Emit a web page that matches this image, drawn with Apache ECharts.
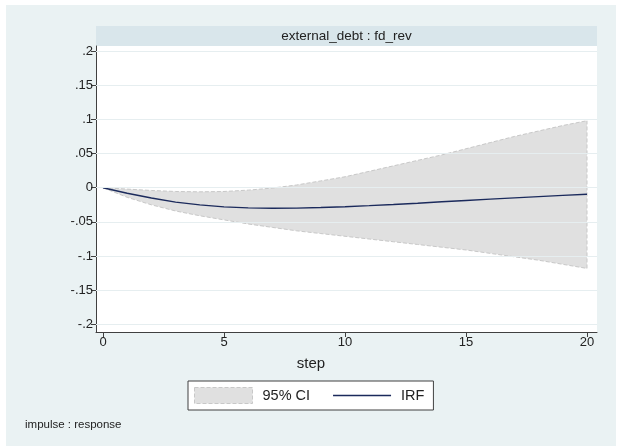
<!DOCTYPE html>
<html><head><meta charset="utf-8">
<script src="https://cdn.jsdelivr.net/npm/echarts@6/dist/echarts.min.js"></script>
<style>html,body{margin:0;padding:0;background:#fff}#c{width:629px;height:447px}</style>
</head><body><div id="c"></div>
<script>
const steps = [0,1,2,3,4,5,6,7,8,9,10,11,12,13,14,15,16,17,18,19,20];
const irf = [0,-0.008,-0.015,-0.021,-0.025,-0.028,-0.0295,-0.030,-0.0298,-0.029,-0.0278,-0.0262,-0.0245,-0.0226,-0.0206,-0.0186,-0.0167,-0.0148,-0.013,-0.0112,-0.0095];
const ciLower = [0,-0.014,-0.025,-0.034,-0.041,-0.047,-0.053,-0.058,-0.063,-0.067,-0.071,-0.075,-0.079,-0.083,-0.087,-0.091,-0.096,-0.101,-0.106,-0.112,-0.118];
const ciUpper = [0,-0.002,-0.004,-0.0055,-0.006,-0.0055,-0.0035,-0.0005,0.004,0.010,0.016,0.024,0.032,0.040,0.048,0.057,0.066,0.075,0.083,0.091,0.098];
const yTickValues = [-0.2,-0.15,-0.1,-0.05,0,0.05,0.1,0.15,0.2];
const yTickLabels = ['-.2','-.15','-.1','-.05','0','.05','.1','.15','.2'];
const xTickValues = [0,5,10,15,20];
const xTickLabels = ['0','5','10','15','20'];
const panelTitle = 'external_debt : fd_rev';
const xTitle = 'step';
const ciName = '95% CI';
const irfName = 'IRF';
const noteText = 'impulse : response';

const FONT = '"Liberation Sans", Arial, Helvetica, sans-serif';
const axisColor = '#404040';
const bandFill = '#e0e0e0';
const bandEdge = '#c8c8c8';
const gridColor = '#e6eef0';
const irfColor = '#1b2a5c';
const last = steps.length - 1;

const chart = echarts.init(document.getElementById('c'), null, {renderer: 'canvas'});
chart.setOption({
  animation: false,
  backgroundColor: '#ffffff',
  textStyle: {fontFamily: FONT},
  graphic: [
    {type: 'rect', z: -10, silent: true, shape: {x: 6, y: 5, width: 610, height: 441}, style: {fill: '#eaf2f3'}},
    {type: 'rect', z: -5, silent: true, shape: {x: 96, y: 26, width: 501, height: 20}, style: {fill: '#d9e6eb'}},
    {type: 'text', z: 10, silent: true, x: 346.5, y: 36.5, style: {text: panelTitle, fill: '#222', font: '13.5px ' + FONT, textAlign: 'center', textVerticalAlign: 'middle'}},
    {type: 'text', z: 10, silent: true, x: 311, y: 364, style: {text: xTitle, fill: '#222', font: '15px ' + FONT, textAlign: 'center', textVerticalAlign: 'middle'}},
    {type: 'text', z: 10, silent: true, x: 25, y: 425, style: {text: noteText, fill: '#222', font: '11.5px ' + FONT, textAlign: 'left', textVerticalAlign: 'middle'}}
  ],
  grid: {left: 96, right: 32, top: 46, bottom: 115, show: true, backgroundColor: '#ffffff', borderWidth: 0, containLabel: false},
  legend: {
    left: 188, top: 381,
    orient: 'horizontal',
    backgroundColor: '#ffffff', borderColor: axisColor, borderWidth: 1, borderRadius: 0,
    padding: [6, 9, 6, 6],
    itemWidth: 58, itemHeight: 16, itemGap: 23,
    textStyle: {fontFamily: FONT, fontSize: 14.5, color: '#222', padding: [0, 0, 0, 5]},
    data: [
      {name: ciName, icon: 'rect', itemStyle: {color: bandFill, borderColor: bandEdge, borderWidth: 1, borderType: 'dashed'}},
      {name: irfName, icon: 'path://M0,0L58,0L58,1.3L0,1.3Z', itemStyle: {color: irfColor, borderWidth: 0}, lineStyle: {color: irfColor, width: 1.2}}
    ]
  },
  xAxis: {
    type: 'value', min: -0.289, max: 20.413,
    axisLine: {show: true, onZero: false, lineStyle: {color: axisColor, width: 1}},
    axisTick: {show: true, length: 5, customValues: xTickValues, lineStyle: {color: axisColor}},
    axisLabel: {customValues: xTickValues, margin: 4, fontSize: 13, color: '#222', fontFamily: FONT,
      formatter: v => xTickLabels[xTickValues.findIndex(t => Math.abs(t - v) < 1e-9)]},
    splitLine: {show: false}
  },
  yAxis: {
    type: 'value', min: -0.211, max: 0.2073,
    axisLine: {show: true, onZero: false, lineStyle: {color: axisColor, width: 1}},
    axisTick: {show: true, length: 5, customValues: yTickValues, lineStyle: {color: axisColor}},
    axisLabel: {customValues: yTickValues, margin: 3, fontSize: 13, color: '#222', fontFamily: FONT,
      formatter: v => yTickLabels[yTickValues.findIndex(t => Math.abs(t - v) < 1e-9)]},
    splitLine: {show: false}
  },
  series: [
    {
      name: ciName, type: 'custom', z: 1, silent: true,
      data: [[0]],
      itemStyle: {color: bandFill},
      renderItem: function (params, api) {
        const pts = [];
        for (let i = 0; i < steps.length; i++) pts.push(api.coord([steps[i], ciUpper[i]]));
        for (let i = steps.length - 1; i >= 0; i--) pts.push(api.coord([steps[i], ciLower[i]]));
        return {type: 'polygon', shape: {points: pts}, style: {fill: bandFill, stroke: null}};
      }
    },
    {
      name: '_grid', type: 'line', z: 2, symbol: 'none', silent: true, data: [],
      markLine: {
        silent: true, symbol: ['none', 'none'], label: {show: false},
        lineStyle: {color: gridColor, width: 1, type: 'solid'},
        emphasis: {disabled: true},
        data: yTickValues.map(v => ({yAxis: v}))
      }
    },
    {
      name: '_lower', type: 'line', z: 3, symbol: 'none', silent: true,
      data: steps.map((s, i) => [s, ciLower[i]]),
      lineStyle: {color: bandEdge, width: 1, type: [4, 2]}
    },
    {
      name: '_upper', type: 'line', z: 3, symbol: 'none', silent: true,
      data: steps.map((s, i) => [s, ciUpper[i]]),
      lineStyle: {color: bandEdge, width: 1, type: [4, 2]}
    },
    {
      name: '_edge', type: 'line', z: 3, symbol: 'none', silent: true,
      data: [[steps[last], ciLower[last]], [steps[last], ciUpper[last]]],
      lineStyle: {color: bandEdge, width: 1, type: [4, 2]}
    },
    {
      name: irfName, type: 'line', z: 4, symbol: 'none', silent: true,
      data: steps.map((s, i) => [s, irf[i]]),
      itemStyle: {color: irfColor},
      lineStyle: {color: irfColor, width: 1.4}
    }
  ]
});
</script></body></html>
